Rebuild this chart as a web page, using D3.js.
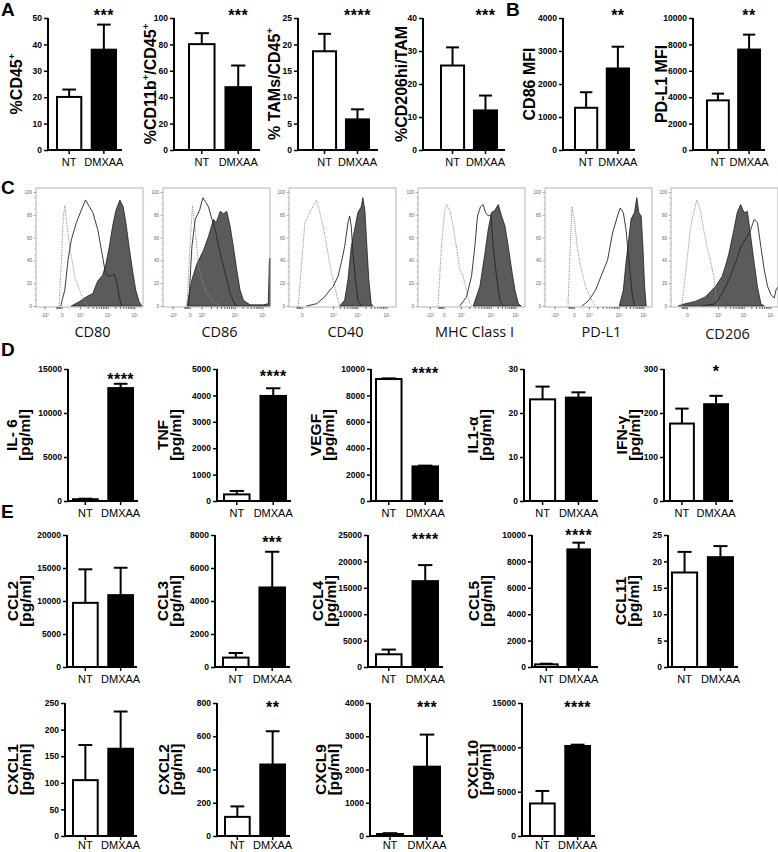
<!DOCTYPE html>
<html><head><meta charset="utf-8">
<script src="https://cdn.jsdelivr.net/npm/d3@7/dist/d3.min.js"></script>
<style>
body{margin:0;background:#fff;}
svg{display:block;}
</style></head><body>
<svg id="fig" width="778" height="852"></svg>
<script>
// ---------------- DATA ----------------
const groups = ["NT", "DMXAA"];
const chartIds = ["A1","A2","A3","A4","B1","B2","D1","D2","D3","D4","D5","E1","E2","E3","E4","E5","E6","E7","E8","E9"];
const yLabels = [
  ["%CD45^+"], ["%CD11b^+/CD45^+"], ["% TAMs/CD45^+"], ["%CD206hi/TAM"],
  ["CD86 MFI"], ["PD-L1 MFI"],
  ["IL- 6","[pg/ml]"], ["TNF","[pg/ml]"], ["VEGF","[pg/ml]"], ["IL1-\u03B1","[pg/ml]"], ["IFN-\u03B3","[pg/ml]"],
  ["CCL2","[pg/ml]"], ["CCL3","[pg/ml]"], ["CCL4","[pg/ml]"], ["CCL5","[pg/ml]"], ["CCL11","[pg/ml]"],
  ["CXCL1","[pg/ml]"], ["CXCL2","[pg/ml]"], ["CXCL9","[pg/ml]"], ["CXCL10","[pg/ml]"]
];
const ntMean    = [20.1, 80.2, 18.7, 25.6, 1280, 3760,  200,  250, 9240, 23.1, 176,  9720,  570,  2410,  200, 17.9, 105, 115,   60,  3670];
const ntTop     = [22.9, 88.5, 22.0, 31.1, 1750, 4270,  260,  380, 9290, 26.0, 210, 14800,  850,  3300,  250, 21.8, 171, 178,   85,  5080];
const dmxaaMean = [38.0, 47.6,  5.8, 12.0, 2470, 7610, 12830, 3980, 2620, 23.5, 220, 10890, 4820, 16260, 8910, 20.8, 164, 430, 2085, 10150];
const dmxaaTop  = [47.5, 64.0,  7.7, 16.5, 3130, 8740, 13320, 4270, 2680, 24.7, 239, 15040, 6985, 19300, 9420, 22.9, 234, 630, 3050, 10300];
const yMax  = [50, 100, 25, 40, 4000, 10000, 15000, 5000, 10000, 30, 300, 20000, 8000, 25000, 10000, 25, 250, 800, 4000, 15000];
const yStep = [10, 20, 5, 10, 1000, 2000, 5000, 1000, 2000, 10, 100, 5000, 2000, 5000, 2000, 5, 50, 200, 1000, 5000];
const stars = ["***","***","****","***","**","**","****","****","****","","*","","***","****","****","","","**","***","****"];

// Flow histograms (x in display units 0-100 across the plot, y = % of max)
const histMarkers = ["CD80", "CD86", "CD40", "MHC Class I", "PD-L1", "CD206"];
const isoCD80 = [[21.6,0],[23.8,40],[25.3,75],[26.9,88],[28.4,75],[31.5,52],[36.1,26],[42.3,10],[48.5,0]];
const ntCD80  = [[23.1,0],[26.9,14],[29.9,40],[33,58],[37.7,73],[42.3,84],[46.3,93],[50,87],[53.1,82],[57.7,67],[62.3,43],[64.8,29],[68.5,26],[73.1,28],[75.3,22],[77.8,8],[80.2,0]];
const dmxCD80 = [[33,0],[40.7,4],[46.9,8],[53.1,11],[57.7,22],[62.3,27],[65.4,37],[68.5,52],[71.6,70],[74.7,84],[78.4,93],[81.5,87],[84,73],[87,52],[90.1,32],[93.2,14],[96.3,4],[98.8,0]];
const isoCD86 = [[22.4,0],[25,50],[27.6,88],[30.1,67],[33.2,35],[36.3,23],[41,11],[47.2,4],[53.4,0]];
const ntCD86  = [[23.9,0],[27,52],[30.1,76],[34.2,84],[37.3,95],[39.4,92],[42.5,87],[45.7,76],[48.8,67],[53.4,46],[58.1,29],[62.7,11],[67.4,1],[70,0]];
const dmxCD86 = [[22.4,0],[27,23],[31.7,37],[37.9,49],[42.5,61],[47.2,76],[49.7,73],[53.4,83],[56.5,81],[59.6,83],[62.7,70],[65.8,52],[68.9,32],[72,14],[75.2,5],[81.4,1],[93.8,1],[98.4,2],[99.4,40],[100,42]];
const isoCD40 = [[8.7,0],[11.8,38],[14.9,73],[19.5,82],[24.1,90],[25.7,93],[28.8,82],[31.9,70],[36.5,46],[39.6,29],[42.7,17],[45.8,5],[47.4,0]];
const ntCD40  = [[16.4,0],[25.7,2],[33.4,8],[38.1,14],[41.2,17],[45.8,26],[48.9,38],[52,52],[55.1,73],[56.7,79],[58.2,70],[59.8,46],[62.2,23],[64.4,5],[67.5,0]];
const dmxCD40 = [[47.4,0],[52,5],[55.1,23],[58.2,52],[61.3,67],[64.4,82],[67.5,87],[69,95],[70.9,84],[72.8,52],[74.6,23],[76.8,2],[78.3,0]];
const isoMHC  = [[18.75,0],[21.9,52],[25,84],[26.9,89],[29.7,84],[32.8,70],[35.9,52],[39.1,32],[42.2,26],[45.3,14],[48.4,2],[50.6,0]];
const ntMHC   = [[39.1,0],[45.3,8],[50,26],[53.1,52],[55.6,79],[58.4,87],[60.9,89],[63.1,82],[65.6,79],[68.1,80],[70.3,52],[73.4,26],[76.6,5],[79.7,0]];
const dmxMHC  = [[51.6,0],[57.8,17],[62.5,46],[65.6,67],[68.8,82],[71.9,84],[75,89],[78.1,79],[81.3,70],[84.4,52],[87.5,32],[90.6,14],[93.8,2],[96.3,0]];
const isoPDL1 = [[21.5,0],[23,38],[25.2,87],[27.8,73],[30,52],[33.1,35],[37.9,17],[42.6,7],[47.3,0]];
const ntPDL1  = [[34.7,0],[41,5],[47.3,14],[53.6,29],[58.4,40],[63.1,64],[67.8,79],[70.3,86],[73.2,82],[75.7,67],[78.9,35],[81.4,11],[83.6,0]];
const dmxPDL1 = [[69.4,0],[73.2,14],[75.7,38],[80.4,76],[83.6,82],[85.8,95],[87.7,82],[89.9,79],[91.5,52],[93.1,17],[94.6,0]];
const isoCD206 = [[10.1,0],[14.8,38],[17.9,67],[21.1,82],[24.2,93],[27.4,84],[30.5,67],[33.6,52],[36.8,40],[39.9,26],[42.1,8],[43.7,0]];
const ntCD206  = [[28.9,0],[41.5,2],[47.8,11],[54.1,23],[60.4,38],[65.1,52],[71.4,61],[74.5,67],[77.7,76],[80.8,73],[84,52],[87.1,32],[90.3,17],[93.4,10],[96.5,7],[98.1,14],[100,17]];
const dmxCD206 = [[6.9,0],[13.2,2],[22.6,4],[32.1,8],[41.5,17],[47.8,26],[50.9,35],[54.1,46],[58.8,67],[61.9,82],[65.1,89],[68.2,82],[71.4,83],[74.5,61],[77.7,38],[80.8,17],[84,2],[87.1,0]];
const histIso = [isoCD80, isoCD86, isoCD40, isoMHC, isoPDL1, isoCD206];
const histNt  = [ntCD80, ntCD86, ntCD40, ntMHC, ntPDL1, ntCD206];
const histDmx = [dmxCD80, dmxCD86, dmxCD40, dmxMHC, dmxPDL1, dmxCD206];
const histYTicks = [0, 20, 40, 60, 80, 100];
const histXTickVals = [[8,24,41,67,92],[9,25,36,67,93],[12,41,64,91],[11,24,40,68,91],[9,27,41,69,92],[15,44,68,93]];
const histXTickLabels = [
  ["-10\u00B3","0","10\u00B3","10\u2074","10\u2075"],
  ["-10\u00B3","0","10\u00B3","10\u2074","10\u2075"],
  ["0","10\u00B3","10\u2074","10\u2075"],
  ["-10\u00B3","0","10\u00B3","10\u2074","10\u2075"],
  ["-10\u00B3","0","10\u00B3","10\u2074","10\u2075"],
  ["0","10\u00B3","10\u2074","10\u2075"]
];
const panelLetters = ["A","B","C","D","E"];

// ---------------- LAYOUT ----------------
const FONT = "'Liberation Sans', Arial, Helvetica, sans-serif";
const rowA = {top:18, bot:150, pad:4}, rowD = {top:369, bot:501, pad:4}, rowE1 = {top:535, bot:667, pad:4}, rowE2 = {top:703, bot:836, pad:1.5};
const barLayout = [
  {ax:48,  ae:122, b0:57,  b1:116, r:rowA, lx:22,  sy:21},
  {ax:174, ae:260, b0:189, b1:251, r:rowA, lx:156, sy:21},
  {ax:298, ae:378, b0:313, b1:369, r:rowA, lx:280, sy:21},
  {ax:423, ae:505, b0:441, b1:497, r:rowA, lx:407, sy:21},
  {ax:563, ae:635, b0:575, b1:629, r:rowA, lx:535, sy:21},
  {ax:693, ae:765, b0:707, b1:760, r:rowA, lx:667, sy:21},
  {ax:68,  ae:138, b0:73,  b1:133, r:rowD, lx:17,  sy:385},
  {ax:217, ae:291, b0:224, b1:286, r:rowD, lx:168, sy:382},
  {ax:371, ae:443, b0:376, b1:438, r:rowD, lx:321, sy:379},
  {ax:524, ae:598, b0:530, b1:591, r:rowD, lx:478, sy:379},
  {ax:664, ae:733, b0:670, b1:728, r:rowD, lx:627, sy:377},
  {ax:67,  ae:137, b0:73,  b1:133, r:rowE1, lx:18,  sy:547},
  {ax:215, ae:290, b0:223, b1:285, r:rowE1, lx:168, sy:548},
  {ax:368, ae:443, b0:376, b1:438, r:rowE1, lx:323, sy:545},
  {ax:532, ae:598, b0:535, b1:590, r:rowE1, lx:479, sy:541},
  {ax:668, ae:738, b0:672, b1:733, r:rowE1, lx:626, sy:547},
  {ax:65,  ae:137, b0:73,  b1:133, r:rowE2, lx:18,  sy:713},
  {ax:217, ae:290, b0:225, b1:285, r:rowE2, lx:169, sy:713},
  {ax:370, ae:443, b0:377, b1:440, r:rowE2, lx:326, sy:713},
  {ax:522, ae:595, b0:530, b1:590, r:rowE2, lx:478, sy:713}
];
const letterPos = [[1,16],[506,16],[1,194],[1,356],[1,518]];
const histX = [36, 163, 289, 418, 545, 671];
const HW = 107, HTOP = 188, HBOT = 307;

const svg = d3.select("#fig").style("font-family", FONT);

// ---------------- helpers ----------------
function rotLabel(g, x, yc, text, size) {
  const t = g.append("text")
    .attr("transform", `translate(${x},${yc}) rotate(-90)`)
    .attr("text-anchor", "middle")
    .attr("font-weight", "bold")
    .attr("font-size", size)
    .attr("fill", "#000");
  const parts = text.split(/(\^.)/).filter(s => s.length);
  let raised = false;
  parts.forEach(p => {
    if (p[0] === "^") {
      t.append("tspan").attr("font-size", size * 0.6).attr("dy", -size * 0.42).text(p[1]);
      raised = true;
    } else {
      const ts = t.append("tspan").text(p);
      if (raised) { ts.attr("dy", size * 0.42); raised = false; }
    }
  });
  return t;
}

// ---------------- bar charts ----------------
chartIds.forEach((id, i) => {
  const L = barLayout[i];
  const y = d3.scaleLinear().domain([0, yMax[i]]).range([L.r.bot, L.r.top]);
  const x = d3.scaleBand().domain(groups).range([L.b0, L.b1]).paddingInner(0.3).paddingOuter(0);
  const bw = x.bandwidth();
  const g = svg.append("g").attr("class", "chart-" + id);
  const rows = groups.map((k, j) => ({k, j, m: (j ? dmxaaMean : ntMean)[i], t: (j ? dmxaaTop : ntTop)[i]}));

  g.selectAll("line.ev").data(rows).join("line").attr("class", "ev")
    .attr("x1", d => x(d.k) + bw / 2).attr("x2", d => x(d.k) + bw / 2)
    .attr("y1", d => y(d.m)).attr("y2", d => y(d.t))
    .attr("stroke", "#000").attr("stroke-width", 2);
  g.selectAll("line.ec").data(rows).join("line").attr("class", "ec")
    .attr("x1", d => x(d.k) + bw * 0.22).attr("x2", d => x(d.k) + bw * 0.78)
    .attr("y1", d => y(d.t)).attr("y2", d => y(d.t))
    .attr("stroke", "#000").attr("stroke-width", 2);
  g.selectAll("rect.bar").data(rows).join("rect").attr("class", "bar")
    .attr("x", d => x(d.k)).attr("y", d => y(d.m))
    .attr("width", bw).attr("height", d => Math.max(0.5, y(0) - y(d.m)))
    .attr("fill", d => d.j ? "#000" : "#fff")
    .attr("stroke", "#000").attr("stroke-width", 2);

  // y axis
  const ya = g.append("g").attr("transform", `translate(${L.ax},0)`)
    .call(d3.axisLeft(y).tickValues(d3.range(0, yMax[i] + 1e-9, yStep[i]))
      .tickSize(4).tickSizeOuter(0).tickPadding(2).tickFormat(d3.format("d")));
  ya.select(".domain").attr("stroke", "#000").attr("stroke-width", 2)
    .attr("d", `M0,${L.r.bot + 1}V${L.r.top}`);
  ya.selectAll(".tick line").attr("stroke", "#000").attr("stroke-width", 1.5);
  ya.selectAll(".tick text").attr("font-family", FONT).attr("font-weight", "bold")
    .attr("font-size", 8.5).attr("fill", "#000");

  // x axis
  g.append("line").attr("x1", L.ax - 1).attr("x2", L.ae).attr("y1", y(0)).attr("y2", y(0))
    .attr("stroke", "#000").attr("stroke-width", 2);
  const xa = g.append("g").attr("transform", `translate(0,${y(0)})`)
    .call(d3.axisBottom(x).tickSize(4).tickSizeOuter(0).tickPadding(L.r.pad));
  xa.select(".domain").remove();
  xa.selectAll(".tick line").attr("stroke", "#000").attr("stroke-width", 1.5);
  xa.selectAll(".tick text").attr("font-family", FONT).attr("font-size", 11).attr("fill", "#000");

  // significance stars
  if (stars[i]) {
    g.append("text").attr("x", x("DMXAA") + bw / 2).attr("y", L.sy)
      .attr("text-anchor", "middle").attr("font-weight", "bold").attr("font-size", 16)
      .attr("letter-spacing", 0.5).text(stars[i]);
  }

  // y label
  const yc = (L.r.top + L.r.bot) / 2;
  const labs = yLabels[i];
  if (labs.length === 1) {
    rotLabel(g, L.lx, yc, labs[0], 16);
  } else {
    rotLabel(g, L.lx, yc, labs[0], 15.5);
    rotLabel(g, L.lx + 12.5, yc, labs[1], 15.5);
  }
});

// ---------------- flow histograms ----------------
histMarkers.forEach((name, b) => {
  const x0 = histX[b];
  const x = d3.scaleLinear().domain([0, 100]).range([x0, x0 + HW]);
  const y = d3.scaleLinear().domain([0, 100]).range([HBOT - 1, 192]);
  const g = svg.append("g").attr("class", "hist");
  const area = d3.area().x(d => x(d[0])).y0(y(0)).y1(d => y(d[1]));
  const line = d3.line().x(d => x(d[0])).y(d => y(d[1]));
  g.append("path").datum(histDmx[b]).attr("d", area)
    .attr("fill", "#5b5b5b").attr("stroke", "#1e1e1e").attr("stroke-width", 0.8);
  g.append("path").datum(histIso[b]).attr("d", line)
    .attr("fill", "none").attr("stroke", "#8f8f8f").attr("stroke-width", 1).attr("stroke-dasharray", "1,1");
  g.append("path").datum(histNt[b]).attr("d", line)
    .attr("fill", "none").attr("stroke", "#262626").attr("stroke-width", 0.9);
  g.append("rect").attr("x", x0).attr("y", HTOP).attr("width", HW).attr("height", HBOT - HTOP)
    .attr("fill", "none").attr("stroke", "#a0a0a0").attr("stroke-width", 0.8);

  // y axis ticks
  const ya = g.append("g").attr("transform", `translate(${x0},0)`)
    .call(d3.axisLeft(y).tickValues(histYTicks).tickSize(2.5).tickSizeOuter(0).tickPadding(1.5));
  ya.select(".domain").remove();
  ya.selectAll(".tick line").attr("stroke", "#777").attr("stroke-width", 0.6);
  ya.selectAll(".tick text").attr("font-size", 4.5).attr("fill", "#666").attr("font-family", FONT);
  g.append("g").selectAll("line").data(d3.range(0, 101, 5).filter(v => v % 20)).join("line")
    .attr("x1", x0 - 1.5).attr("x2", x0).attr("y1", d => y(d)).attr("y2", d => y(d))
    .attr("stroke", "#888").attr("stroke-width", 0.5);

  // x axis ticks
  const xa = g.append("g").attr("transform", `translate(0,${HBOT})`)
    .call(d3.axisBottom(x).tickValues(histXTickVals[b]).tickSize(2.5).tickSizeOuter(0).tickPadding(4)
      .tickFormat((d, k) => histXTickLabels[b][k]));
  xa.select(".domain").remove();
  xa.selectAll(".tick line").attr("stroke", "#444").attr("stroke-width", 0.7);
  xa.selectAll(".tick text").attr("font-size", 4.5).attr("fill", "#666").attr("font-family", FONT);
  // minor ticks between log decades and a dense cluster left of zero
  const tv = histXTickVals[b];
  const minors = [];
  for (let k = tv.length - 3; k < tv.length - 1; k++) {
    for (let m = 2; m <= 9; m++) minors.push(tv[k] + (tv[k + 1] - tv[k]) * Math.log10(m));
  }
  const zi = histXTickLabels[b].indexOf("0");
  for (let m = 1; m <= 5; m++) minors.push(tv[zi] - m * 0.9);
  g.append("g").selectAll("line").data(minors).join("line")
    .attr("x1", d => x(d)).attr("x2", d => x(d)).attr("y1", HBOT).attr("y2", HBOT + 2)
    .attr("stroke", "#333").attr("stroke-width", 0.7);

  // marker label
  g.append("text").attr("x", x0 + HW / 2 + 3).attr("y", b === 5 ? 339 : 337)
    .attr("text-anchor", "middle").attr("font-family", "'Open Sans', sans-serif")
    .attr("font-size", 14.5).attr("fill", "#111").text(name);
});

// ---------------- panel letters ----------------
svg.selectAll("text.letter").data(panelLetters).join("text").attr("class", "letter")
  .attr("x", (d, k) => letterPos[k][0]).attr("y", (d, k) => letterPos[k][1])
  .attr("font-weight", "bold").attr("font-size", 19).attr("fill", "#000").text(d => d);
</script>
</body></html>
